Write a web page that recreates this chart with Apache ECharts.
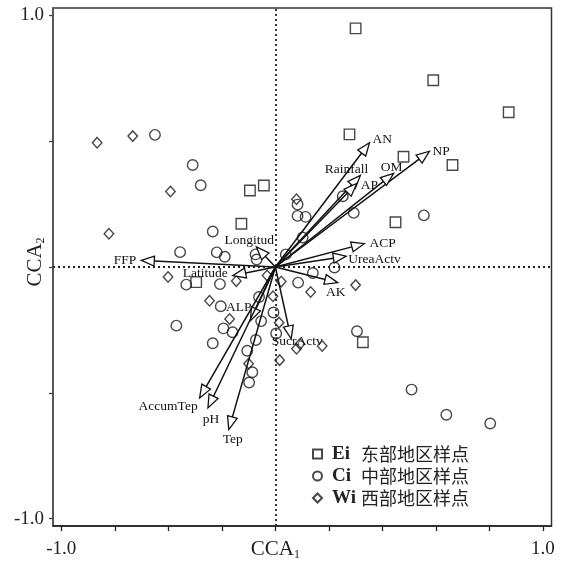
<!DOCTYPE html>
<html>
<head>
<meta charset="utf-8">
<script src="https://cdn.jsdelivr.net/npm/echarts@6/dist/echarts.min.js"></script>
<style>html,body{margin:0;padding:0;background:#fff}#c{width:561px;height:565px}</style>
</head>
<body>
<div id="c"></div>
<script>
// ---- data ----
const seriesNames = ['Ei', 'Ci', 'Wi'];
const legendCN = ['东部地区样点', '中部地区样点', '西部地区样点'];
const eiPoints = [
  [0.300, 0.948], [0.590, 0.742], [0.872, 0.615], [0.277, 0.527], [0.479, 0.438],
  [0.662, 0.405], [0.449, 0.178], [-0.095, 0.304], [-0.043, 0.324], [-0.127, 0.172],
  [-0.296, -0.060], [0.327, -0.299]
];
const ciPoints = [
  [-0.450, 0.525], [-0.309, 0.405], [-0.279, 0.325], [-0.234, 0.141], [-0.356, 0.059],
  [-0.219, 0.058], [-0.189, 0.041], [-0.074, 0.050], [-0.070, 0.030], [-0.333, -0.070],
  [-0.207, -0.068], [-0.204, -0.156], [-0.370, -0.233], [-0.194, -0.244], [-0.160, -0.259],
  [-0.234, -0.303], [-0.061, -0.119], [-0.053, -0.215], [-0.073, -0.290], [-0.105, -0.333],
  [-0.086, -0.418], [-0.098, -0.459], [-0.007, -0.181], [0.003, -0.264], [0.039, 0.050],
  [0.085, -0.062], [0.140, -0.024], [0.221, -0.002], [0.083, 0.248], [0.083, 0.203],
  [0.113, 0.199], [0.252, 0.281], [0.293, 0.215], [0.555, 0.205], [0.305, -0.255],
  [0.509, -0.487], [0.639, -0.587], [0.803, -0.622], [0.102, 0.117]
];
const wiPoints = [
  [-0.666, 0.494], [-0.533, 0.520], [-0.392, 0.300], [-0.622, 0.132], [-0.401, -0.040],
  [-0.146, -0.056], [-0.246, -0.134], [-0.171, -0.207], [-0.100, -0.384], [-0.031, -0.034],
  [0.022, -0.058], [-0.009, -0.116], [0.014, -0.221], [0.016, -0.370], [0.079, -0.325],
  [0.092, -0.306], [0.175, -0.314], [0.132, -0.099], [0.300, -0.072], [0.079, 0.269]
];
const arrowNames = ['AN', 'NP', 'OM', 'Rainfall', 'AP', 'ACP', 'UreaActv', 'AK', 'SucrActv',
  'ALP', 'AccumTep', 'pH', 'Tep', 'FFP', 'Latitude', 'Longitud'];
const arrowX = [0.352, 0.576, 0.442, 0.318, 0.304, 0.333, 0.265, 0.233, 0.059,
  -0.093, -0.283, -0.252, -0.174, -0.501, -0.159, -0.071];
const arrowY = [0.494, 0.460, 0.372, 0.364, 0.332, 0.093, 0.043, -0.062, -0.285,
  -0.213, -0.520, -0.560, -0.646, 0.026, -0.034, 0.080];
const xTickValues = [-0.8, -0.6, -0.4, -0.2, 0, 0.2, 0.4, 0.6, 0.8, 1.0];
const xLabelValues = [-0.8, 1.0];
const xTickLabels = ['-1.0', '1.0'];
const yTickValues = [-1, -0.5, 0, 0.5, 1];
const yLabelValues = [-1, 1];
const yTickLabels = ['-1.0', '1.0'];
const xAxisTitle = ['CCA', '1'];
const yAxisTitle = ['CCA', '2'];

// ---- styling (label placement for arrow names, px offsets from tip) ----
const labelPlace = {
  'AN': [3, -3, 'left'], 'NP': [3, 0, 'left'], 'OM': [-2, -6, 'center'],
  'Rainfall': [-14, -6, 'center'], 'AP': [4, 2, 'left'], 'ACP': [5, 0, 'left'],
  'UreaActv': [2, 3, 'left'], 'AK': [-2, 10, 'center'], 'SucrActv': [6, 3, 'center'],
  'ALP': [1, -13, 'right'], 'AccumTep': [-2, 9, 'right'], 'pH': [3, 12, 'center'],
  'Tep': [4, 10, 'center'], 'FFP': [-5, 0, 'right'], 'Latitude': [-5, -2, 'right'],
  'Longitud': [-7, -6, 'center']
};

const SERIF = '"Liberation Serif", "Times New Roman", serif';
const chart = echarts.init(document.getElementById('c'), null, {renderer: 'canvas'});
const markerStyle = {color: 'rgba(255,255,255,0)', borderColor: '#1a1a1a', borderWidth: 1.4};

const arrowData = arrowNames.map((n, i) => [arrowX[i], arrowY[i]]);

const nameRich = {
  a: {fontFamily: SERIF, fontSize: 21, fill: '#222', lineHeight: 24, verticalAlign: 'middle'},
  b: {fontFamily: SERIF, fontSize: 12, fill: '#222', lineHeight: 12, padding: [10, 0, 0, 0], verticalAlign: 'bottom'}
};

const option = {
  animation: false,
  backgroundColor: '#fff',
  grid: {left: 53, right: 9.5, top: 8, bottom: 39, containLabel: false, outerBoundsMode: 'none',
    show: true, borderColor: '#333', borderWidth: 1.5, backgroundColor: 'transparent'},
  xAxis: {
    type: 'value', min: -0.831, max: 1.032,
    splitLine: {show: false},
    axisLine: {show: true, onZero: false, lineStyle: {color: '#222', width: 1.5}},
    axisTick: {show: true, inside: false, length: 5, customValues: xTickValues, lineStyle: {color: '#222', width: 1.3}},
    axisLabel: {show: true, customValues: xLabelValues, margin: 14, fontFamily: SERIF, fontSize: 19, color: '#222',
      formatter: v => { const k = xLabelValues.findIndex(t => Math.abs(t - v) < 1e-6); return k >= 0 ? xTickLabels[k] : ''; }}
  },
  yAxis: {
    type: 'value', min: -1.029, max: 1.029,
    splitLine: {show: false},
    axisLine: {show: true, onZero: false, lineStyle: {color: '#555', width: 1.5}},
    axisTick: {show: true, inside: false, length: 4, customValues: yTickValues, lineStyle: {color: '#444', width: 1.3}},
    axisLabel: {show: true, customValues: yLabelValues, margin: 9, fontFamily: SERIF, fontSize: 19, color: '#222',
      formatter: v => { const k = yLabelValues.findIndex(t => Math.abs(t - v) < 1e-6); return k >= 0 ? yTickLabels[k] : ''; }}
  },
  legend: {
    orient: 'vertical', left: 307, top: 439, itemGap: 2, itemWidth: 9, itemHeight: 9,
    data: seriesNames,
    formatter: name => `{a|${name}}{b|${legendCN[seriesNames.indexOf(name)]}}`,
    textStyle: {lineHeight: 20, rich: {
      a: {fontFamily: SERIF, fontSize: 19, fontWeight: 'bold', color: '#222', width: 29, padding: [0, 0, 0, 5]},
      b: {fontFamily: '"Noto Sans CJK SC", sans-serif', fontSize: 18, color: '#222'}
    }}
  },
  series: [
    {
      name: 'zero', type: 'scatter', data: [], silent: true,
      markLine: {silent: true, symbol: ['none', 'none'], label: {show: false},
        lineStyle: {type: [2, 3], color: '#222', width: 1.8},
        data: [{xAxis: 0}, {yAxis: 0}]}
    },
    {name: 'Ei', type: 'scatter', symbol: 'rect', symbolSize: 10.5, data: eiPoints, itemStyle: markerStyle, z: 3},
    {name: 'Ci', type: 'scatter', symbol: 'circle', symbolSize: 10.5, data: ciPoints, itemStyle: markerStyle, z: 3},
    {name: 'Wi', type: 'scatter', symbol: 'diamond', symbolSize: [9.5, 10.5], data: wiPoints, itemStyle: markerStyle, z: 3},
    {
      name: 'arrows', type: 'custom', z: 4,
      data: arrowData,
      renderItem: (params, api) => {
        const p0 = api.coord([0, 0]);
        const p1 = api.coord([api.value(0), api.value(1)]);
        const dx = p1[0] - p0[0], dy = p1[1] - p0[1];
        const L = Math.hypot(dx, dy) || 1;
        const ux = dx / L, uy = dy / L;
        const hl = 13, hw = 5;
        const b = [p1[0] - ux * hl, p1[1] - uy * hl];
        const l = [b[0] - uy * hw, b[1] + ux * hw];
        const r = [b[0] + uy * hw, b[1] - ux * hw];
        const name = arrowNames[params.dataIndex];
        const pl = labelPlace[name] || [4, 0, 'left'];
        return {
          type: 'group',
          children: [
            {type: 'line', shape: {x1: p0[0], y1: p0[1], x2: b[0], y2: b[1]}, style: {stroke: '#111', lineWidth: 1.5}},
            {type: 'polygon', shape: {points: [p1, l, r]}, style: {fill: '#fff', stroke: '#111', lineWidth: 1.3}},
            {type: 'text', x: p1[0] + pl[0], y: p1[1] + pl[1],
              style: {text: name, align: pl[2], verticalAlign: 'middle', fontFamily: SERIF, fontSize: 13.5, fill: '#111'}}
          ]
        };
      }
    }
  ]
};
chart.setOption(option);

// axis titles, placed from the axes' own scale (centered on the origin lines)
const org = chart.convertToPixel({gridIndex: 0}, [0, 0]);
const bottomPx = chart.convertToPixel({gridIndex: 0}, [0, -1.029])[1];
const leftPx = chart.convertToPixel({gridIndex: 0}, [-0.831, 0])[0];
chart.setOption({
  graphic: [
    {type: 'text', x: org[0], y: bottomPx + 23, z: 10,
      style: {text: `{a|${xAxisTitle[0]}}{b|${xAxisTitle[1]}}`, rich: nameRich, align: 'center', verticalAlign: 'middle'}},
    {type: 'text', x: leftPx - 18, y: org[1] - 5, rotation: Math.PI / 2, z: 10,
      style: {text: `{a|${yAxisTitle[0]}}{b|${yAxisTitle[1]}}`, rich: nameRich, align: 'center', verticalAlign: 'middle'}}
  ]
});
</script>
</body>
</html>
